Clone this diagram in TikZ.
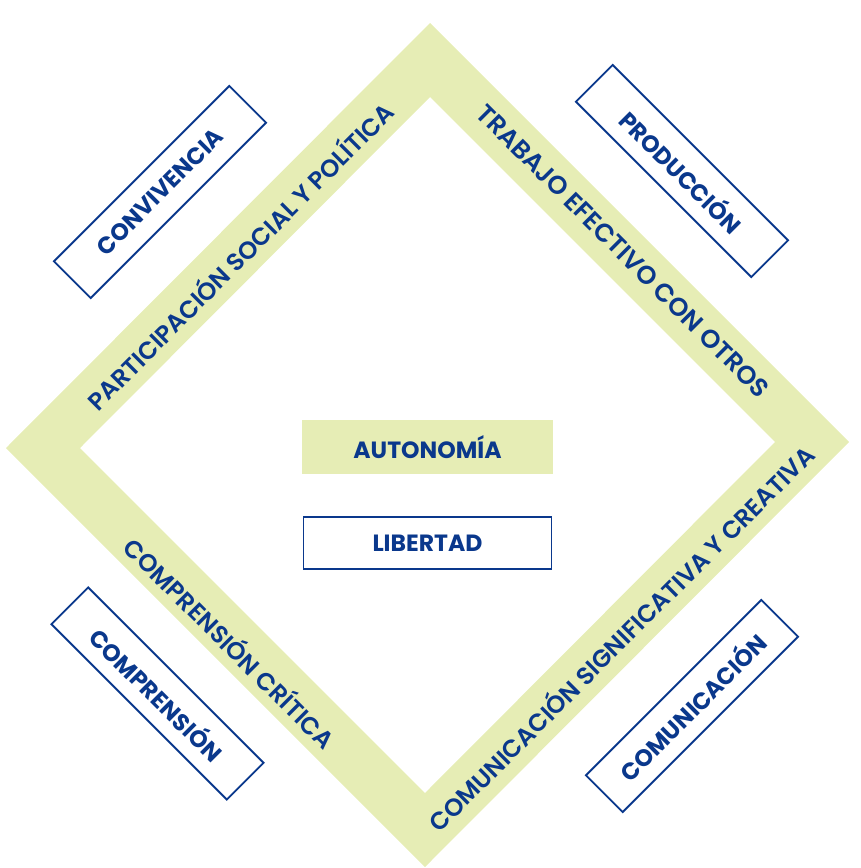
\documentclass[tikz,border=0pt]{standalone}
\usepackage{fontspec}
\setmainfont{Poppins}[BoldFont=* Bold]
\newfontfamily\bandfont{Poppins SemiBold}
\definecolor{bandgreen}{RGB}{230,237,181}
\definecolor{deepblue}{RGB}{10,56,140}
\begin{document}
\begin{tikzpicture}[x=1pt,y=-1pt,
  bandtext/.style={text=deepblue, font=\bandfont\fontsize{24.5}{24.5}\selectfont, inner sep=0pt},
  boxtext/.style={text=deepblue, font=\bfseries\fontsize{23.5}{23.5}\selectfont},
  outbox/.style={draw=deepblue, line width=1.9pt, fill=white, minimum width=248pt, minimum height=52pt, inner sep=0pt, boxtext},
  greenbox/.style={fill=bandgreen, minimum width=251pt, minimum height=54pt, inner sep=0pt, boxtext}]
\useasboundingbox (0,0) rectangle (860,868);
% diamond band
\fill[bandgreen, even odd rule]
  (430,23) -- (849,442) -- (425,867) -- (6,448) -- cycle
  (430,97) -- (775,442) -- (425,793) -- (80,448) -- cycle;
% band labels
\node[bandtext, rotate=45] (pol) at (239,255) {PARTICIPACIÓN SOCIAL Y POLÍTICA};
\node[bandtext, rotate=-45] (trab) at (623,251) {\fontsize{25.5}{25.5}\selectfont TRABAJO EFECTIVO CON OTROS};
\node[bandtext, rotate=-45] (crit) at (231,642) {COMPRENSIÓN CRÍTICA};
\node[bandtext, rotate=45] (comsig) at (620,637) {COMUNICACIÓN SIGNIFICATIVA Y CREATIVA};
% outer boxes
\node[outbox, rotate=45] (conv) at (160,192) {CONVIVENCIA};
\node[outbox, rotate=-45] (prod) at (682,171) {PRODUCCIÓN};
\node[outbox, rotate=-45] (compr) at (157.5,693.5) {COMPRENSIÓN};
\node[outbox, rotate=45] (comu) at (692,706) {COMUNICACIÓN};
% center
\node[greenbox] (auto) at (427.5,447) {AUTONOMÍA};
\node[outbox] (lib) at (427.5,543) {LIBERTAD};
\end{tikzpicture}
\end{document}
